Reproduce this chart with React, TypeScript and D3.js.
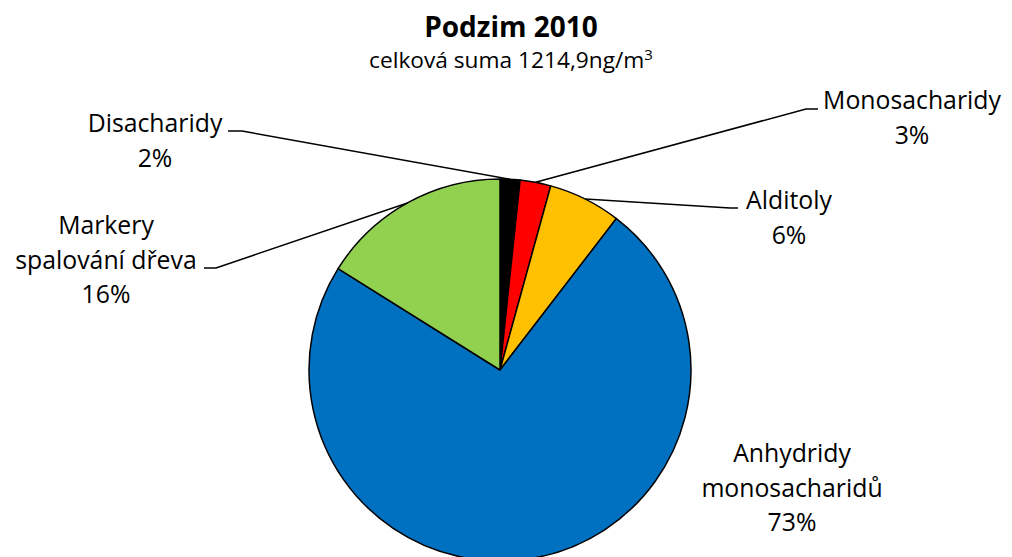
import React from "react";
import * as d3 from "d3";

const categories = ["Disacharidy", "Monosacharidy", "Alditoly", "Anhydridy monosacharidů", "Markery spalování dřeva"];
const values = [20.4, 31.6, 74.7, 892.6, 195.6]; // ng/m3, total 1214.9
const colors = ["#000000", "#FF0000", "#FFC000", "#0070C0", "#92D050"];
const labelLines = [
  ["Disacharidy"],
  ["Monosacharidy"],
  ["Alditoly"],
  ["Anhydridy", "monosacharidů"],
  ["Markery", "spalování dřeva"],
];
const title = "Podzim 2010";
const subtitle = "celková suma 1214,9ng/m";

const W = 1012, H = 557;
const cx = 500, cy = 370, R = 191;
const FONT = "'Open Sans', Lato, sans-serif";
const FS = 24.8;
const LH = 34.5;

// label layout: center x, first baseline, leader bend point and end of horizontal segment
const labelLayout = [
  { x: 155, y: 132, bend: [242, 131], end: [228, 131] },
  { x: 912, y: 109, bend: [806, 109], end: [818, 109] },
  { x: 789, y: 209, bend: [730, 208], end: [738, 208] },
  { x: 792, y: 462, bend: null, end: null },
  { x: 106, y: 234, bend: [216, 268], end: [204, 268] },
];

export default function App() {
  const total = d3.sum(values);
  const pie = d3.pie<number>().sort(null).value((d) => d)(values);
  const arc = d3.arc<d3.PieArcDatum<number>>().innerRadius(0).outerRadius(R);
  const edge = d3.arc<d3.PieArcDatum<number>>().innerRadius(R).outerRadius(R);

  return (
    <svg width={W} height={H} style={{ position: "absolute", left: 0, top: 0, background: "#fff" }}>
      <text x={511} y={37} textAnchor="middle" fontFamily={FONT} fontWeight="bold" fontSize={28} fill="#000">
        {title}
      </text>
      <text x={511} y={68} textAnchor="middle" fontFamily={FONT} fontSize={22.7} fill="#000">
        {subtitle}
        <tspan dy={-8} fontSize={15}>3</tspan>
      </text>
      <g transform={`translate(${cx},${cy})`}>
        {pie.map((p, i) => (
          <path key={i} d={arc(p) || ""} fill={colors[i]} stroke="#000" strokeWidth={1.5} strokeLinejoin="round" />
        ))}
      </g>
      {pie.map((p, i) => {
        const L = labelLayout[i];
        if (!L.bend) return null;
        const [ex, ey] = edge.centroid(p);
        const pts: [number, number][] = [[cx + ex, cy + ey], L.bend as [number, number], L.end as [number, number]];
        return (
          <path key={"l" + i} d={d3.line()(pts) || ""} fill="none" stroke="#000" strokeWidth={1.5} />
        );
      })}
      {pie.map((p, i) => {
        const L = labelLayout[i];
        const lines = [...labelLines[i], `${Math.round((values[i] / total) * 100)}%`];
        return (
          <text key={"t" + i} x={L.x} y={L.y} textAnchor="middle" fontFamily={FONT} fontSize={FS} fill="#000">
            {lines.map((s, j) => (
              <tspan key={j} x={L.x} dy={j === 0 ? 0 : LH}>
                {s}
              </tspan>
            ))}
          </text>
        );
      })}
    </svg>
  );
}
